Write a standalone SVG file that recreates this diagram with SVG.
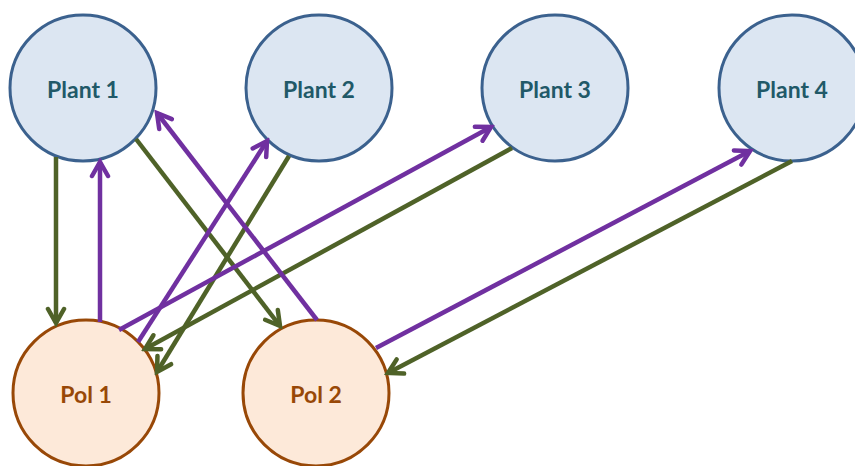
<svg xmlns="http://www.w3.org/2000/svg" width="855" height="466" viewBox="0 0 855 466">
<style>
.plant circle{fill:#dce6f2;stroke:#3b618e;stroke-width:3}
.pol circle{fill:#fde9d9;stroke:#984807;stroke-width:3}
text{font-family:Lato,"Liberation Sans",sans-serif;font-weight:bold;font-size:23px;text-anchor:middle;dominant-baseline:central}
.plant text{fill:#215968}
.pol text{fill:#984807}
.g{stroke:#4f6228;stroke-width:4.5;fill:none;marker-end:url(#ag)}
.p{stroke:#7030a0;stroke-width:4.5;fill:none;marker-end:url(#ap)}
</style>
<defs>
<marker id="ag" markerUnits="userSpaceOnUse" viewBox="-18 -12 22 24" markerWidth="22" markerHeight="24" refX="0" refY="0" orient="auto">
<path d="M-14,-8 L0,0 L-14,8" fill="none" stroke="#4f6228" stroke-width="4.5" stroke-linecap="round" stroke-linejoin="miter"/>
</marker>
<marker id="ap" markerUnits="userSpaceOnUse" viewBox="-18 -12 22 24" markerWidth="22" markerHeight="24" refX="0" refY="0" orient="auto">
<path d="M-14,-8 L0,0 L-14,8" fill="none" stroke="#7030a0" stroke-width="4.5" stroke-linecap="round" stroke-linejoin="miter"/>
</marker>
</defs>
<g id="plant1" class="plant"><circle cx="83" cy="88" r="73"/><text x="83" y="89">Plant 1</text></g>
<g id="plant2" class="plant"><circle cx="319" cy="88" r="73"/><text x="319" y="89">Plant 2</text></g>
<g id="plant3" class="plant"><circle cx="555" cy="88" r="73"/><text x="555" y="89">Plant 3</text></g>
<g id="plant4" class="plant"><circle cx="792" cy="88" r="73"/><text x="792" y="89">Plant 4</text></g>
<g id="pol1" class="pol"><circle cx="86" cy="393" r="73"/><text x="86" y="394">Pol 1</text></g>
<g id="pol2" class="pol"><circle cx="316" cy="393" r="73"/><text x="316" y="394">Pol 2</text></g>
<g id="connectors">
<line class="g" x1="56" y1="157" x2="56" y2="323"/>
<line class="g" x1="136" y1="139" x2="280" y2="326"/>
<line class="g" x1="289" y1="156" x2="157" y2="372"/>
<line class="g" x1="512" y1="148" x2="145" y2="349"/>
<line class="g" x1="792" y1="161" x2="388" y2="373"/>
<line class="p" x1="100" y1="322" x2="100" y2="162"/>
<line class="p" x1="138" y1="342" x2="267" y2="141"/>
<line class="p" x1="119" y1="330" x2="491" y2="127"/>
<line class="p" x1="317" y1="320" x2="157" y2="113"/>
<line class="p" x1="376" y1="348" x2="750" y2="151"/>
</g>
</svg>
